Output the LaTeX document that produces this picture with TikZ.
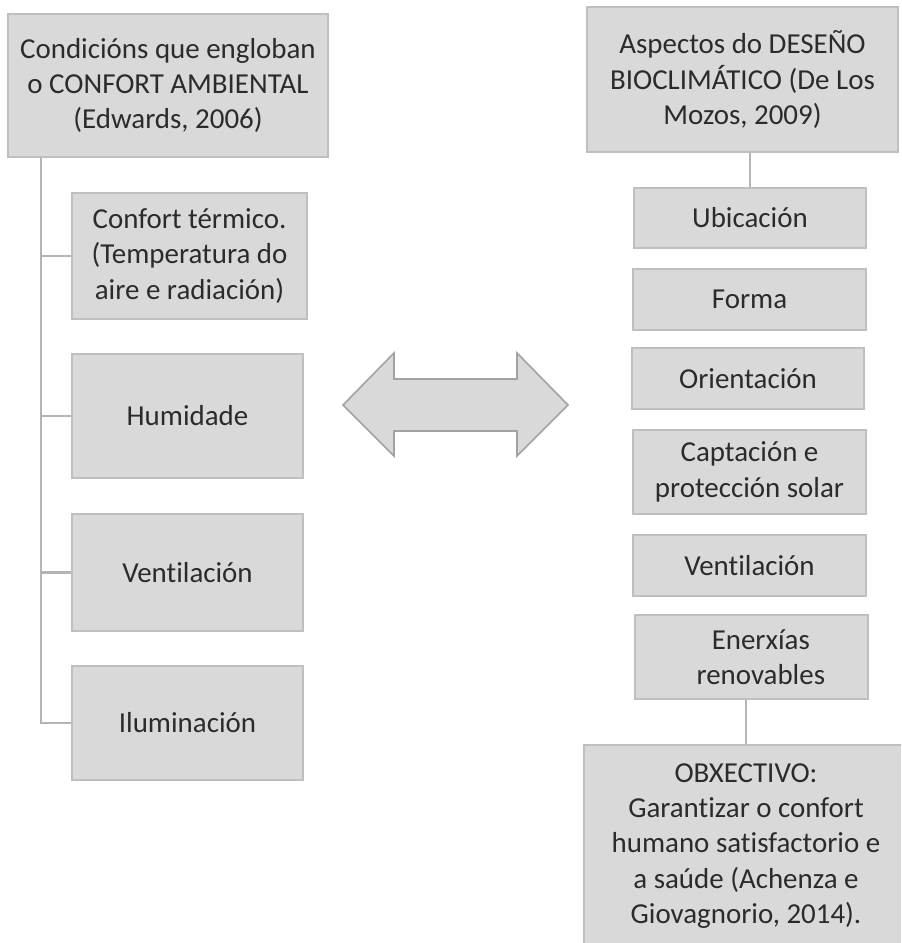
\documentclass[tikz,border=0pt]{standalone}
\usepackage{fontspec}
\setmainfont{Carlito}[Ligatures=NoCommon]
\definecolor{caixagris}{HTML}{D9D9D9}
\definecolor{bordegris}{HTML}{BFBFBF}
\definecolor{ramalgris}{HTML}{B4B4B4}
\definecolor{textogris}{HTML}{2B2B2B}
\tikzset{
  caixa/.style 2 args={draw=bordegris, fill=caixagris, line width=1.2pt, text=textogris,
    align=center, inner sep=0pt, font=\fontsize{21.7}{26.5}\selectfont,
    minimum width=#1*0.75pt, minimum height=#2*0.75pt},
  ramal/.style={draw=ramalgris, line width=2pt}
}
\begin{document}
\begin{tikzpicture}[x=0.75pt,y=-0.75pt]
\useasboundingbox (0,0) rectangle (901,943);
\clip (0,0) rectangle (901,943);
% confort ambiental
\node[caixa={320}{143}] (ambiental) at (168,85.5) {Condicións que engloban\\o CONFORT AMBIENTAL\\(Edwards, 2006)};
\node[caixa={235}{126}] (termico) at (189.5,256) {Confort térmico.\\(Temperatura do\\aire e radiación)};
\node[caixa={231}{124}] (humidade) at (187.5,416) {Humidade};
\node[caixa={231}{117}] (ventilA) at (187.5,572.5) {Ventilación};
\node[caixa={231}{114}] (iluminacion) at (187.5,723) {Iluminación};
\coordinate (tronco) at (41,157);
\draw[ramal] (tronco) |- (iluminacion.west);
\foreach \n in {termico,humidade,ventilA}
  \draw[ramal] (tronco |- \n.west) -- (\n.west);
% deseno bioclimatico
\node[caixa={311}{145}] (deseno) at (742.5,79.5) {Aspectos do DESEÑO\\BIOCLIMÁTICO (De Los\\Mozos, 2009)};
\node[caixa={232}{60}] (ubicacion) at (750,218) {Ubicación};
\node[caixa={233}{61}] (forma) at (749.5,299.5) {Forma};
\node[caixa={232}{61}] (orientacion) at (748,378.5) {Orientación};
\node[caixa={233}{84}] (captacion) at (749.5,472) {Captación e\\protección solar};
\node[caixa={233}{61}] (ventilB) at (749.5,565.5) {Ventilación};
\node[caixa={233}{84}] (enerxias) at (751.5,657) {\hspace*{14pt}Enerxías\\\hspace*{14pt}renovables};
\node[caixa={324}{202}] (obxectivo) at (746,846) {OBXECTIVO:\\Garantizar o confort\\humano satisfactorio e\\a saúde (Achenza e\\Giovagnorio, 2014).};
\draw[ramal] (ubicacion.north) -- (ubicacion.north |- deseno.south);
\draw[ramal] (obxectivo.north) -- (obxectivo.north |- enerxias.south);
% frecha dobre
\draw[draw=bordegris!85!black, fill=caixagris, line width=1.2pt]
  (343,405) -- (394,353) -- (394,379) -- (517,379) -- (517,353) -- (568,405)
  -- (517,456) -- (517,431) -- (394,431) -- (394,456) -- cycle;
\end{tikzpicture}
\end{document}
